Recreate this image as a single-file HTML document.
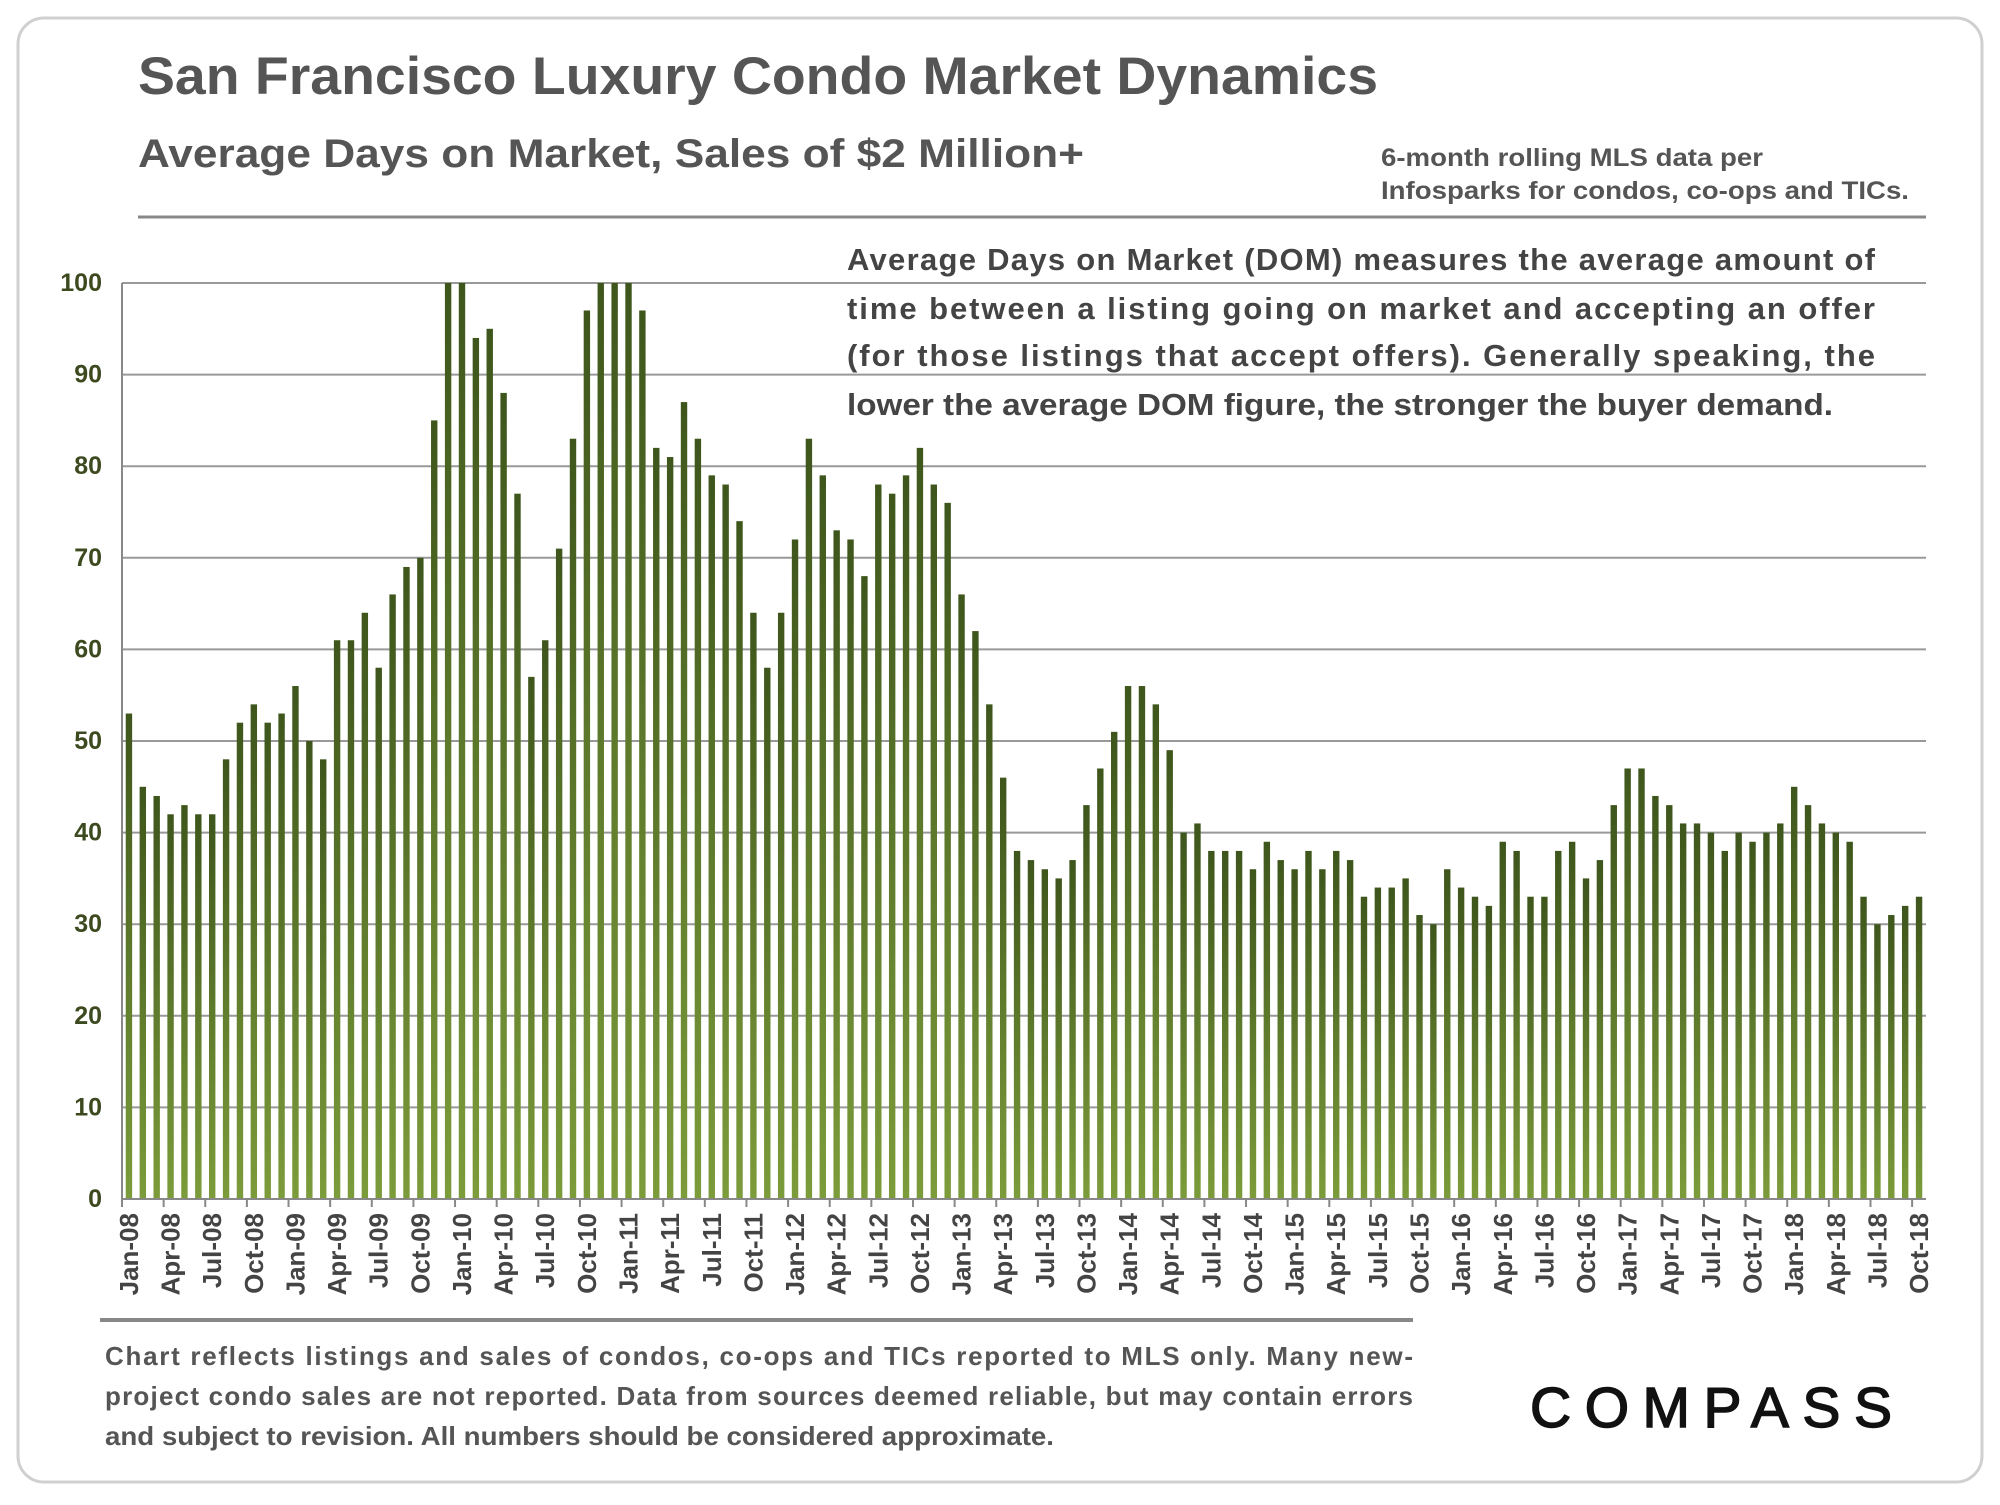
<!DOCTYPE html>
<html><head><meta charset="utf-8"><style>
body{margin:0;background:#fff;}
svg text{font-family:"Liberation Sans",Arial,sans-serif;font-weight:bold;}
</style></head><body>
<svg id="chart" width="2000" height="1500" viewBox="0 0 2000 1500" xmlns="http://www.w3.org/2000/svg">
<defs><linearGradient id="g" x1="0" y1="0" x2="0" y2="1"><stop offset="0" stop-color="#3e561c"/><stop offset="1" stop-color="#7c9c3a"/></linearGradient>
<clipPath id="clip"><rect x="120" y="283" width="1810" height="920"/></clipPath></defs>
<rect x="18" y="18" width="1964" height="1464" rx="26" fill="#fff" stroke="#d0d0d0" stroke-width="3"/>
<text x="138" y="94" font-size="53" fill="#555" textLength="1240" lengthAdjust="spacingAndGlyphs">San Francisco Luxury Condo Market Dynamics</text>
<text x="138" y="167" font-size="40" fill="#555" textLength="946" lengthAdjust="spacingAndGlyphs">Average Days on Market, Sales of $2 Million+</text>
<text font-size="25" fill="#555"><tspan x="1381" y="166" textLength="382" lengthAdjust="spacingAndGlyphs">6-month rolling MLS data per</tspan><tspan x="1381" y="199" textLength="528" lengthAdjust="spacingAndGlyphs">Infosparks for condos, co-ops and TICs.</tspan></text>
<line x1="138" y1="217" x2="1926" y2="217" stroke="#888" stroke-width="3"/>
<g id="grid"></g>
<g id="bars" clip-path="url(#clip)"></g>
<g id="axes"></g>
<text font-size="31" fill="#444">
<tspan x="847" y="270" textLength="1028" lengthAdjust="spacing">Average Days on Market (DOM) measures the average amount of</tspan>
<tspan x="847" y="319" textLength="1028" lengthAdjust="spacing">time between a listing going on market and accepting an offer</tspan>
<tspan x="847" y="366" textLength="1028" lengthAdjust="spacing">(for those listings that accept offers).  Generally speaking, the</tspan>
<tspan x="847" y="415" textLength="986" lengthAdjust="spacingAndGlyphs">lower the average DOM figure, the stronger the buyer demand.</tspan>
</text>
<line x1="100" y1="1320" x2="1413" y2="1320" stroke="#888" stroke-width="4"/>
<text font-size="26" fill="#555">
<tspan x="105" y="1365" textLength="1308" lengthAdjust="spacing">Chart reflects listings and sales of condos, co-ops and TICs reported to MLS only. Many new-</tspan>
<tspan x="105" y="1405" textLength="1308" lengthAdjust="spacing">project condo sales are not reported. Data from sources deemed reliable, but may contain errors</tspan>
<tspan x="105" y="1445" textLength="949" lengthAdjust="spacingAndGlyphs">and subject to revision. All numbers should be considered approximate.</tspan>
</text>
<text x="1530" y="1427" font-size="57" fill="#111" textLength="362" lengthAdjust="spacing" stroke="#111" stroke-width="1.5" style="font-weight:normal">COMPASS</text>
</svg>
<script>
const values=[53,45,44,42,43,42,42,48,52,54,52,53,
56,50,48,61,61,64,58,66,69,70,85,100,
100,94,95,88,77,57,61,71,83,97,100,100,
100,97,82,81,87,83,79,78,74,64,58,64,
72,83,79,73,72,68,78,77,79,82,78,76,
66,62,54,46,38,37,36,35,37,43,47,51,
56,56,54,49,40,41,38,38,38,36,39,37,
36,38,36,38,37,33,34,34,35,31,30,36,
34,33,32,39,38,33,33,38,39,35,37,43,
47,47,44,43,41,41,40,38,40,39,40,41,
45,43,41,40,39,33,30,31,32,33];
const months=["Jan","Feb","Mar","Apr","May","Jun","Jul","Aug","Sep","Oct","Nov","Dec"];
const yTicks=[0,10,20,30,40,50,60,70,80,90,100];
const NS="http://www.w3.org/2000/svg";
const X0=122,X1=1926,Y0=1199,Y100=283;
const n=values.length, step=(X1-X0)/n;
const y=v=>Y0-(v/100)*(Y0-Y100);
const xc=i=>X0+step*(i+0.5);
function mk(t,a,p){const e=document.createElementNS(NS,t);for(const k in a)e.setAttribute(k,a[k]);(p||document.getElementById('chart')).appendChild(e);return e;}
const grid=document.getElementById('grid'),bars=document.getElementById('bars'),axes=document.getElementById('axes');
yTicks.forEach(t=>{
 const l=mk('line',{x1:X0,x2:X1,y1:y(t),y2:y(t),stroke:'#999','stroke-width':2},grid);
 
 
 const tx=mk('text',{x:102,y:y(t)+8,'text-anchor':'end','font-size':25,fill:'#3d4a1f'},axes);
 tx.textContent=t;
 
 
});
values.forEach((v,i)=>{
 const r=mk('rect',{x:xc(i)-3.2,y:y(v),width:6.4,height:Y0-y(v),fill:'url(#g)'},bars);
 
 
});
const ax=mk('line',{x1:X0,x2:X1,y1:Y0,y2:Y0,stroke:'#888','stroke-width':2},axes);


const ay=mk('line',{x1:X0,x2:X0,y1:Y100,y2:Y0+6,stroke:'#888','stroke-width':2},axes);


for(let i=0;i<n;i+=3){
 const yr=String(8+Math.floor(i/12)).padStart(2,'0');
 const lab=months[i%12]+'-'+yr;
 const tk=mk('line',{x1:xc(i)-step/2,x2:xc(i)-step/2,y1:Y0,y2:Y0+8,stroke:'#888','stroke-width':2},axes);
 
 
 const tx=mk('text',{x:0,y:0,'text-anchor':'end','font-size':26,fill:'#444',transform:'translate('+(xc(i)+9)+','+(Y0+14)+') rotate(-90)'},axes);
 tx.textContent=lab;
 
 
}
</script>
</body></html>
